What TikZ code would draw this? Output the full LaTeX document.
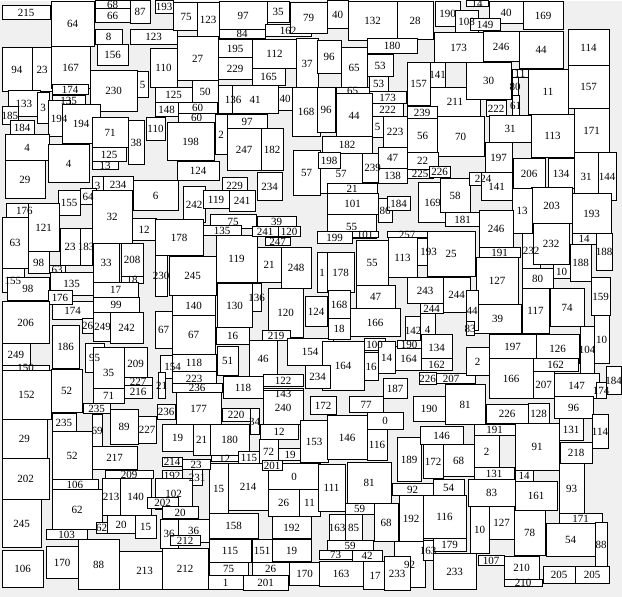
\documentclass[tikz,border=0pt]{standalone}
\usepackage{fontspec}
\setmainfont{Liberation Serif}
\definecolor{gap}{HTML}{F0F0F0}
\tikzset{cell/.style={fill=white,draw=black,line width=0.7pt},
  num/.style={font=\fontsize{11}{11}\selectfont,inner sep=0pt}}
\def\cells{2/5/50/19/215, 51/1/94/46/64, 95/0/130/8/68, 95/8/130/22/66, 130/0/150/23/87,
95/29/122/44/8, 97/44/128/65/156, 130/29/177/44/123, 2/47/32/91/94, 32/47/52/91/23,
51/46/90/88/167, 90/70/137/111/230, 137/71/148/97/5, 52/84/88/94/174, 52/95/85/105/135,
8/90/40/116/133, 37/92/49/123/3, 2/106/18/124/185, 10/120/34/134/184, 48/100/70/136/194,
62/104/100/143/194, 5/134/49/160/4, 48/144/89/182/4, 5/160/45/198/29, 92/117/128/147/71,
92/147/126/161/125, 128/120/144/164/38, 92/161/118/169/13, 92/176/103/195/3, 103/176/133/193/234,
133/180/178/210/6, 146/117/165/140/110, 80/188/96/204/64, 58/190/80/215/155,
155/0/173/13/193, 173/2/199/30/75, 197/2/219/36/123, 219/1/267/29/97, 267/1/289/22/35,
219/29/265/38/84, 265/24/311/36/162, 177/36/218/80/27, 150/48/177/87/110, 218/39/252/57/195,
218/57/252/79/229, 252/39/297/68/112, 252/68/285/85/165, 296/38/318/88/37, 155/87/192/102/125,
192/80/218/102/50, 155/102/178/116/148, 178/102/217/113/60, 178/113/215/122/60, 218/85/248/113/136,
232/85/278/113/41, 278/87/292/110/40, 292/87/320/136/168, 317/87/335/132/96, 167/122/214/160/198,
215/114/227/154/2, 227/114/267/128/97, 227/128/261/170/247, 261/128/283/170/182, 177/161/219/180/124,
222/177/247/193/229, 257/172/282/200/234, 293/150/320/195/57, 183/186/205/222/242, 203/190/229/208/119,
229/190/255/211/241,
290/2/327/33/79, 327/0/348/28/40, 348/1/397/40/132, 397/1/433/39/28, 435/1/460/26/190,
455/10/478/32/108, 367/38/417/53/180, 317/40/341/73/96, 341/47/367/87/65, 367/54/393/76/53,
369/76/388/91/53, 336/87/369/93/65, 369/91/406/103/173, 434/32/483/62/173, 407/62/430/105/157,
430/62/445/87/141, 430/87/480/116/211, 336/93/372/137/44, 372/103/403/116/222, 407/106/437/118/239,
372/116/383/137/5, 383/116/407/147/223, 407/118/438/152/56, 437/116/484/156/70, 322/136/372/153/182,
320/153/362/193/57, 318/152/340/168/198, 362/153/383/182/239, 378/147/407/168/47, 378/168/407/183/138,
407/152/438/169/22, 407/169/433/178/225, 429/166/450/177/226, 327/183/377/194/21, 327/193/378/214/101,
418/182/447/222/169, 440/178/470/212/58,
466/0/488/6/14, 489/1/523/23/40, 523/1/563/29/169, 470/18/500/30/149, 483/31/519/61/246,
519/31/563/68/44, 568/29/609/65/114, 466/62/511/99/30, 512/69/528/77/11, 512/77/518/95/80,
512/95/519/115/61, 528/69/568/114/11, 568/65/609/108/157, 486/100/506/116/222, 489/115/531/142/31,
531/114/574/157/113, 574/108/609/152/171, 485/142/512/172/197, 513/158/545/188/206, 548/158/574/188/134,
574/152/598/200/31, 598/152/616/200/144, 469/172/497/185/224, 481/172/512/200/141, 531/187/572/223/203,
572/193/611/233/193,
6/203/43/217/176, 28/203/59/251/121, 92/190/132/243/32, 132/218/156/240/12, 2/217/28/268/63,
60/228/80/265/23, 80/228/92/265/183, 93/243/119/282/33, 121/243/143/276/208, 121/276/143/283/18,
28/251/49/273/98, 49/265/65/273/63, 2/268/24/292/155, 7/277/49/300/98, 50/272/93/295/135,
93/282/138/297/17, 52/301/93/319/174, 48/290/72/304/176, 93/297/139/312/99, 2/301/49/343/206,
93/312/112/341/249, 110/312/143/343/242, 82/318/93/333/26, 52/325/79/368/186, 2/343/30/365/249,
2/365/49/370/150, 85/343/104/372/95, 93/347/124/398/35, 124/347/147/380/209, 124/377/152/385/227,
124/385/152/398/216, 2/370/51/419/152, 51/369/82/412/52, 93/388/124/403/71,
155/219/203/255/178, 155/255/167/296/230, 169/256/216/295/245, 216/235/257/282/119, 257/247/281/282/21,
281/247/311/288/248, 210/214/256/228/75, 203/225/241/235/135, 257/216/296/226/39, 252/226/278/236/241,
278/226/300/236/120, 265/237/290/245/247, 172/295/215/315/140, 217/283/252/327/130, 252/283/261/311/136,
268/288/303/337/120, 262/330/290/340/219, 155/311/172/348/67, 172/315/215/354/67, 216/327/249/344/16,
217/346/238/375/51, 249/340/277/376/46, 287/338/333/365/154, 160/355/185/378/154, 158/372/165/398/21,
172/354/216/371/118, 172/371/216/385/223, 172/383/222/392/236, 223/376/263/398/118, 263/374/303/386/122,
263/388/303/398/143,
327/214/376/238/55, 378/198/392/222/86, 387/196/410/210/184, 445/212/480/226/181, 317/231/352/243/199,
352/231/378/237/101, 387/231/427/237/257, 356/240/388/285/55, 388/237/417/277/113, 417/238/440/265/193,
427/231/475/276/25, 327/252/354/292/178, 317/252/327/292/1, 356/285/395/308/47, 407/277/443/303/243,
443/277/470/312/244, 420/303/443/313/244, 350/308/400/336/166, 405/316/421/345/142, 420/313/435/345/4,
328/290/350/318/168, 328/318/350/339/18, 305/296/327/326/124, 322/341/364/390/164, 364/338/385/350/100,
378/341/395/373/14, 364/352/378/380/16, 395/346/422/370/164, 397/340/421/348/190, 421/334/452/361/134,
421/358/452/370/162, 427/373/475/383/207, 419/372/436/384/226, 383/378/407/398/187, 305/365/330/388/234,
512/188/532/233/13, 479/210/513/247/246, 522/233/540/268/232, 533/223/569/264/232, 572/233/596/244/14,
596/233/612/270/188, 570/244/591/281/188, 479/247/520/257/191, 476/257/518/304/127, 553/264/570/278/10,
522/268/553/288/80, 591/277/610/315/159, 522/288/549/333/117, 550/288/584/326/74, 474/304/521/333/39,
466/290/478/330/44, 466/321/474/335/83, 489/334/536/358/197, 536/334/579/363/126, 533/358/578/371/162,
580/326/594/373/104, 594/315/609/363/10, 466/347/489/375/2, 489/358/533/398/166, 533/371/554/398/207,
554/373/599/398/147, 596/382/606/398/174, 606/366/621/394/184,
52/413/76/431/235, 83/403/110/413/235, 52/431/92/479/52, 92/414/102/446/69, 110/409/138/444/89,
138/416/156/443/227, 2/419/47/458/29, 92/446/137/469/217, 2/458/49/499/202, 105/470/153/478/209,
52/479/98/489/106, 102/478/120/515/213, 120/478/151/515/140, 52/489/102/529/62, 2/499/41/547/245,
107/515/135/533/20, 135/515/156/538/15, 46/529/87/539/103, 96/522/107/533/62, 2/550/43/587/106,
46/546/78/578/170, 78/539/119/589/88, 119/551/170/589/213,
176/392/221/424/177, 222/408/250/421/220, 250/408/259/434/34, 263/390/303/424/240, 157/404/175/419/236,
162/424/193/451/19, 193/424/210/455/21, 210/424/249/455/180, 211/455/238/461/12, 238/451/260/463/115,
260/424/298/439/12, 259/439/278/463/72, 278/448/302/460/19, 268/463/320/489/0, 228/463/268/510/214,
209/463/228/513/15, 162/457/182/466/214, 182/459/210/469/23, 162/470/182/480/192, 192/469/202/485/231,
155/478/192/509/102, 147/497/178/508/202, 162/506/198/518/20, 262/460/282/470/201, 268/489/299/516/26,
299/489/320/516/11, 272/516/311/538/192, 209/513/258/538/158, 160/519/178/548/36, 178/519/209/542/36,
170/535/200/545/212, 162/548/208/589/212, 209/539/251/562/115, 209/562/248/575/75, 208/575/243/589/1,
243/575/288/590/201, 252/539/272/562/151, 272/539/311/561/19, 252/562/289/575/26, 289/562/320/585/170,
310/396/336/414/172, 349/396/383/412/77, 367/412/403/429/0, 413/396/445/421/190, 300/420/328/462/153,
327/415/367/459/146, 367/429/387/460/116, 397/437/421/481/189, 420/426/463/444/146, 423/444/443/478/172,
443/444/474/476/68, 433/479/464/495/54, 392/483/433/495/92, 318/464/345/511/111, 347/462/391/503/81,
345/503/374/514/59, 374/503/398/541/68, 399/495/423/541/192, 423/495/466/538/116, 329/514/345/540/163,
345/514/362/540/85, 327/540/373/550/59, 319/550/352/559/73, 352/550/382/561/42, 319/561/363/586/163,
363/561/387/589/17, 394/541/425/587/92, 384/556/410/590/233, 433/538/466/551/179, 423/540/433/560/163,
433/553/476/589/233,
445/384/485/424/81, 486/404/528/423/226, 528/403/549/423/128, 554/396/593/418/96, 559/418/583/440/131,
592/414/608/448/114, 474/424/515/435/191, 474/435/499/467/2, 515/423/559/470/91, 560/442/592/463/218,
474/467/514/479/131, 515/470/533/481/14, 468/479/515/506/83, 515/481/557/510/161, 559/463/584/513/93,
470/506/489/553/10, 489/506/514/539/127, 514/510/545/555/78, 559/513/602/523/171, 546/523/595/556/54,
595/522/607/566/88, 478/555/504/565/107, 504/556/539/579/210, 504/579/542/586/210, 543/566/575/583/205,
575/566/609/583/205}
\begin{document}
\begin{tikzpicture}[x=1pt,y=-1pt]
  \fill[gap] (0,0) rectangle (622,596);
  \foreach \a/\b/\c/\d/\lab in \cells \draw[cell] (\a,\b) rectangle (\c,\d);
  \foreach \a/\b/\c/\d/\lab [count=\i] in \cells
    \node[num] (n\i) at ({(\a+\c)/2},{(\b+\d)/2}) {\lab};
\end{tikzpicture}
\end{document}
